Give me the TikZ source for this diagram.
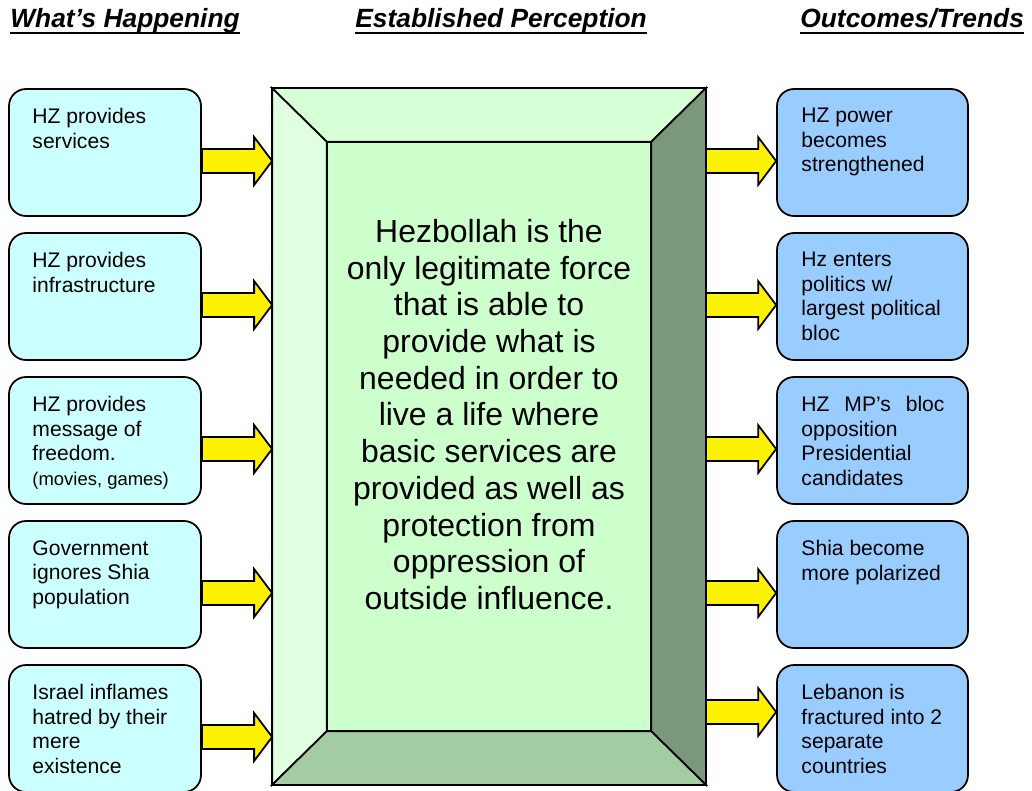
\documentclass[tikz,border=0pt]{standalone}
\usepackage{fontspec}
\setmainfont{Liberation Sans}
\usetikzlibrary{calc}

\definecolor{cleft}{RGB}{204,255,255}
\definecolor{cright}{RGB}{153,204,255}
\definecolor{cface}{RGB}{204,255,204}
\definecolor{ctop}{RGB}{214,255,214}
\definecolor{cwest}{RGB}{224,255,224}
\definecolor{ceast}{RGB}{122,153,122}
\definecolor{csouth}{RGB}{163,204,163}

\tikzset{
  lbox/.style={draw=black,line width=1pt,fill=cleft,rounded corners=0.34cm,minimum width=3.84cm,minimum height=2.54cm,inner sep=0pt},
  rbox/.style={lbox,fill=cright,minimum width=3.82cm},
  boxtext/.style={anchor=north west,inner sep=0pt,align=left,font=\fontsize{12}{13.9}\selectfont},
  yarrow/.style={draw=black,line width=1pt,fill=yellow,line join=miter},
  bevel/.style={draw=black,line width=1pt,line join=miter},
  header/.style={anchor=base west,inner sep=0pt,font=\fontsize{15}{18}\selectfont\bfseries\itshape},
  uline/.style={line width=1.3pt}
}

\begin{document}
\begin{tikzpicture}
  \useasboundingbox (0,0) rectangle (20.64,-15.82);

  % headers
  \node[header] (hwhat) at (0.20,-0.56) {What’s Happening};
  \node[header] (hperc) at (7.10,-0.56) {Established Perception};
  \node[header] (hout) at (16.00,-0.56) {Outcomes/Trends};
  \foreach \h in {hwhat,hperc,hout}
    \draw[uline] ([yshift=-0.10cm]\h.base west) -- ([yshift=-0.10cm]\h.base east);

  % perception block
  \node[draw=black,line width=1pt,minimum width=8.64cm,minimum height=13.90cm,inner sep=0pt] (pc) at (9.78,-8.73) {};
  \node[minimum width=6.48cm,minimum height=11.78cm,inner sep=0pt] (pin) at (pc.center) {};
  \draw[bevel,fill=ctop] (pc.north west) -- (pc.north east) -- (pin.north east) -- (pin.north west) -- cycle;
  \draw[bevel,fill=cwest] (pc.north west) -- (pin.north west) -- (pin.south west) -- (pc.south west) -- cycle;
  \draw[bevel,fill=ceast] (pc.north east) -- (pin.north east) -- (pin.south east) -- (pc.south east) -- cycle;
  \draw[bevel,fill=csouth] (pc.south west) -- (pin.south west) -- (pin.south east) -- (pc.south east) -- cycle;
  \draw[bevel,fill=cface] (pin.north west) rectangle (pin.south east);
  \node[align=center,font=\fontsize{18.2}{20.9}\selectfont] (ptext) at ([yshift=0.44cm]pin.center)
    {Hezbollah is the\\only legitimate force\\that is able to\\provide what is\\needed in order to\\live a life where\\basic services are\\provided as well as\\protection from\\oppression of\\outside influence.};

  % what's happening
  \node[lbox] (l1) at (2.10,-3.05) {};
  \node[lbox] (l2) at (2.10,-5.93) {};
  \node[lbox] (l3) at (2.10,-8.81) {};
  \node[lbox] (l4) at (2.10,-11.69) {};
  \node[lbox] (l5) at (2.10,-14.57) {};
  \node[boxtext] at ([xshift=0.48cm,yshift=-0.40cm]l1.north west) {HZ provides\\services};
  \node[boxtext] at ([xshift=0.48cm,yshift=-0.40cm]l2.north west) {HZ provides\\infrastructure};
  \node[boxtext] at ([xshift=0.48cm,yshift=-0.40cm]l3.north west) {HZ provides\\message of\\freedom.\\{\fontsize{10.5}{12.5}\selectfont(movies, games)}};
  \node[boxtext] at ([xshift=0.48cm,yshift=-0.40cm]l4.north west) {Government\\ignores Shia\\population};
  \node[boxtext] at ([xshift=0.48cm,yshift=-0.40cm]l5.north west) {Israel inflames\\hatred by their\\mere\\existence};

  % outcomes/trends
  \node[rbox] (r1) at (17.45,-3.05) {};
  \node[rbox] (r2) at (17.45,-5.93) {};
  \node[rbox] (r3) at (17.45,-8.81) {};
  \node[rbox] (r4) at (17.45,-11.69) {};
  \node[rbox] (r5) at (17.45,-14.57) {};
  \node[boxtext] at ([xshift=0.50cm,yshift=-0.40cm]r1.north west) {HZ power\\becomes\\strengthened};
  \node[boxtext] at ([xshift=0.50cm,yshift=-0.40cm]r2.north west) {Hz enters\\politics w/\\largest political\\bloc};
  \node[boxtext] at ([xshift=0.50cm,yshift=-0.40cm]r3.north west) {\hbox to 2.86cm{HZ\hfill MP’s\hfill bloc}\\opposition\\Presidential\\candidates};
  \node[boxtext] at ([xshift=0.50cm,yshift=-0.40cm]r4.north west) {Shia become\\more polarized};
  \node[boxtext] at ([xshift=0.50cm,yshift=-0.40cm]r5.north west) {Lebanon is\\fractured into 2\\separate\\countries};

  % yellow arrows in
  \foreach \i in {1,...,5}{
    \coordinate (t\i) at ([yshift=-0.17cm]l\i.east);
    \coordinate (p\i) at (t\i -| pc.west);
    \draw[yarrow] ([yshift=0.24cm]t\i) -- ([xshift=-0.36cm,yshift=0.24cm]p\i) -- ([xshift=-0.36cm,yshift=0.48cm]p\i) -- (p\i)
      -- ([xshift=-0.36cm,yshift=-0.48cm]p\i) -- ([xshift=-0.36cm,yshift=-0.24cm]p\i) -- ([yshift=-0.24cm]t\i) -- cycle;
  }
  % yellow arrows out
  \foreach \i/\dy in {1/-0.17,2/-0.17,3/-0.17,4/-0.17,5/0.33}{
    \coordinate (q\i) at ([yshift=\dy cm]r\i.west);
    \coordinate (s\i) at (q\i -| pc.east);
    \draw[yarrow] ([yshift=0.24cm]s\i) -- ([xshift=-0.36cm,yshift=0.24cm]q\i) -- ([xshift=-0.36cm,yshift=0.48cm]q\i) -- (q\i)
      -- ([xshift=-0.36cm,yshift=-0.48cm]q\i) -- ([xshift=-0.36cm,yshift=-0.24cm]q\i) -- ([yshift=-0.24cm]s\i) -- cycle;
  }
\end{tikzpicture}
\end{document}
